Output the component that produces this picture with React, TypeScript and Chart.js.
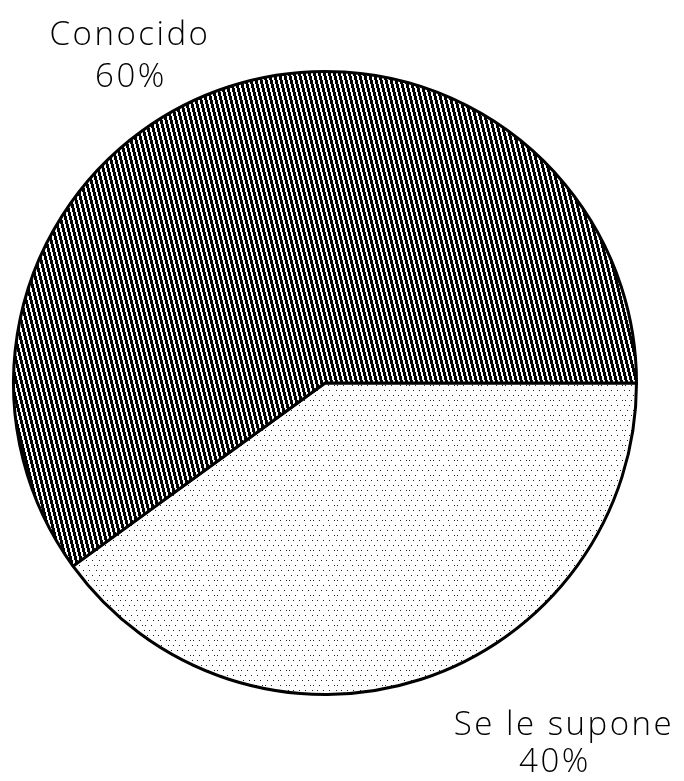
import React, { useEffect, useRef } from "react";
import { Chart, registerables } from "chart.js";

Chart.register(...registerables);

const categories = ["Se le supone", "Conocido"];
const shares = [40, 60];
const percentLabels = ["40%", "60%"];

function makeHatch(): CanvasPattern | string {
  const w = 5;
  const h = 20;
  const c = document.createElement("canvas");
  c.width = w;
  c.height = h;
  const ctx = c.getContext("2d");
  if (!ctx) return "#333";
  ctx.fillStyle = "#fff";
  ctx.fillRect(0, 0, w, h);
  ctx.fillStyle = "#000";
  for (let y = 0; y < h; y++) {
    const s = Math.floor(y / 4);
    for (let x = 0; x < w; x++) {
      if ((((x - s) % w) + w) % w < 3) ctx.fillRect(x, y, 1, 1);
    }
  }
  return ctx.createPattern(c, "repeat") as CanvasPattern;
}

function makeDots(): CanvasPattern | string {
  const c = document.createElement("canvas");
  c.width = 24;
  c.height = 15;
  const ctx = c.getContext("2d");
  if (!ctx) return "#ddd";
  ctx.fillStyle = "#fff";
  ctx.fillRect(0, 0, 24, 15);
  ctx.fillStyle = "#222";
  const dots = [
    [0, 0], [5, 0], [11, 0], [17, 0],
    [3, 5], [9, 5], [14, 5], [20, 5],
    [1, 10], [7, 10], [16, 10], [22, 10],
  ];
  dots.forEach(([x, y]) => ctx.fillRect(x, y, 1, 1));
  return ctx.createPattern(c, "repeat") as CanvasPattern;
}

const labelPlugin = {
  id: "pieLabels",
  afterDraw(chart: any) {
    const ctx = chart.ctx as CanvasRenderingContext2D;
    ctx.save();
    ctx.fillStyle = "#000";
    ctx.font = '300 33px "DejaVu Sans ExtraLight", "Open Sans", "DejaVu Sans", sans-serif';
    ctx.textAlign = "center";
    ctx.textBaseline = "alphabetic";
    (ctx as any).letterSpacing = "2.5px";
    ctx.fillText(categories[1], 130, 45);
    ctx.fillText(percentLabels[1], 131, 87);
    ctx.fillText(categories[0], 564, 735);
    ctx.fillText(percentLabels[0], 555, 772);
    ctx.restore();
  },
};

export default function App() {
  const ref = useRef<HTMLCanvasElement | null>(null);
  useEffect(() => {
    document.body.style.margin = "0";
    if (!ref.current) return;
    const chart = new Chart(ref.current, {
      type: "pie",
      data: {
        labels: categories,
        datasets: [
          {
            data: shares,
            backgroundColor: [makeDots(), makeHatch()],
            borderColor: "#000",
            borderWidth: 3,
          },
        ],
      },
      options: {
        responsive: false,
        animation: false,
        rotation: 90,
        layout: { padding: { left: 11, right: 45, top: 70, bottom: 85 } },
        plugins: {
          legend: { display: false },
          tooltip: { enabled: false },
        },
      },
      plugins: [labelPlugin],
    });
    return () => chart.destroy();
  }, []);
  return (
    <div style={{ width: 684, height: 781, background: "#fff" }}>
      <canvas ref={ref} width={684} height={781} style={{ width: 684, height: 781, display: "block" }} />
    </div>
  );
}
